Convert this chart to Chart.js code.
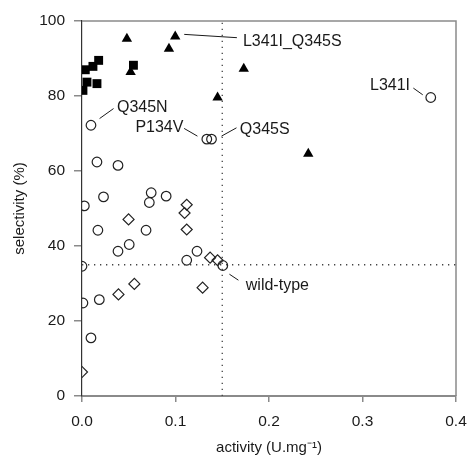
<!DOCTYPE html>
<html>
<head>
<meta charset="utf-8">
<script src="https://cdn.jsdelivr.net/npm/chart.js@4.4.0/dist/chart.umd.min.js"></script>
<style>
  html, body { margin: 0; padding: 0; background: #fff; }
  #wrap { width: 468px; height: 461px; }
</style>
</head>
<body>
<div id="wrap"><canvas id="chart" width="468" height="461"></canvas></div>
<script>
// activity (U.mg-1) / selectivity (%)
var squareX = [0.001, 0.0035, 0.0053, 0.0117, 0.016, 0.0178, 0.055];
var squareY = [81.5, 87.0, 83.7, 87.9, 83.3, 89.5, 88.2];

var triangleX = [0.048, 0.052, 0.093, 0.0997, 0.145, 0.173, 0.242];
var triangleY = [95.3, 86.4, 92.6, 95.9, 79.6, 87.3, 64.6];

var circleX = [0.0096, 0.016, 0.0385, 0.023, 0.074, 0.072, 0.090, 0.0025, 0.017, 0.0685, 0.0505,
               0.0385, 0.0, 0.112, 0.123, 0.1506, 0.001, 0.0185, 0.0096, 0.1335, 0.1385, 0.373];
var circleY = [72.2, 62.4, 61.5, 53.1, 54.2, 51.6, 53.3, 50.7, 44.2, 44.2, 40.4,
               38.6, 34.6, 36.2, 38.6, 34.8, 24.8, 25.7, 15.5, 68.5, 68.5, 79.6];

var diamondX = [0.0498, 0.112, 0.1097, 0.112, 0.137, 0.145, 0.129, 0.056, 0.039, 0.0];
var diamondY = [47.1, 51.0, 48.8, 44.4, 36.9, 36.2, 28.9, 29.9, 27.1, 6.4];

// dotted reference lines (wild-type level)
var refActivity = 0.15;
var refSelectivity = 35;

// labelled variants and the point each refers to
var labelNames = ['Q345N', 'P134V', 'Q345S', 'L341I_Q345S', 'L341I', 'wild-type'];
var labelX = [0.0096, 0.1335, 0.1385, 0.0997, 0.373, 0.1506];
var labelY = [72.2, 68.5, 68.5, 95.9, 79.6, 34.8];

var xTicks = [0, 0.1, 0.2, 0.3, 0.4];
var yTicks = [0, 20, 40, 60, 80, 100];

// pixel placement of the labels: [lineStartDx, lineStartDy, lineEndDx, lineEndDy, textDx, textDy, align]
var labelLayout = [
    [8.6, -6.7, 22.6, -16.7, 26, -17.5, 'left'],
    [-22.7, -10.7, -9.4, -3, -23.4, -11.5, 'right'],
    [10, -3, 25, -11.3, 28.3, -9.5, 'left'],
    [9, -2, 61.7, 1.3, 67.7, 5, 'left'],
    [-17.4, -9.4, -8, -2.7, -20.7, -11.7, 'right'],
    [6.6, 8.7, 15.6, 14.7, 23, 20.5, 'left']
];

function pts(xs, ys) {
    return xs.map(function (x, i) { return { x: x, y: ys[i] }; });
}

var FONT = "'Liberation Sans', Arial, sans-serif";

var framePlugin = {
    id: 'frame',
    beforeDatasetsDraw: function (chart) {
        var a = chart.chartArea, ctx = chart.ctx;
        ctx.save();
        ctx.strokeStyle = '#8a8a8a';
        ctx.lineWidth = 1.5;
        ctx.beginPath();
        ctx.moveTo(a.left, a.top);
        ctx.lineTo(a.right, a.top);
        ctx.lineTo(a.right, a.bottom);
        ctx.stroke();
        ctx.restore();
    }
};

var labelPlugin = {
    id: 'labels',
    afterDatasetsDraw: function (chart) {
        var ctx = chart.ctx, xs = chart.scales.x, ys = chart.scales.y;
        ctx.save();
        ctx.font = '16px ' + FONT;
        ctx.textBaseline = 'middle';
        ctx.fillStyle = '#1a1a1a';
        ctx.strokeStyle = '#1a1a1a';
        ctx.lineWidth = 1;
        labelNames.forEach(function (name, i) {
            var px = xs.getPixelForValue(labelX[i]);
            var py = ys.getPixelForValue(labelY[i]);
            var l = labelLayout[i];
            ctx.beginPath();
            ctx.moveTo(px + l[0], py + l[1]);
            ctx.lineTo(px + l[2], py + l[3]);
            ctx.stroke();
            ctx.textAlign = l[6];
            ctx.fillText(name, px + l[4], py + l[5]);
        });
        ctx.restore();
    }
};

var ctx = document.getElementById('chart').getContext('2d');
var chart = new Chart(ctx, {
    type: 'scatter',
    data: {
        datasets: [
            {
                label: 'squares',
                data: pts(squareX, squareY),
                pointStyle: 'rect',
                pointRadius: 6.3,
                backgroundColor: '#000',
                borderColor: '#000',
                borderWidth: 0
            },
            {
                label: 'triangles',
                data: pts(triangleX, triangleY),
                pointStyle: 'triangle',
                pointRadius: 6,
                backgroundColor: '#000',
                borderColor: '#000',
                borderWidth: 0
            },
            {
                label: 'circles',
                data: pts(circleX, circleY),
                pointStyle: 'circle',
                pointRadius: 4.8,
                backgroundColor: 'rgba(0,0,0,0)',
                borderColor: '#222',
                borderWidth: 1.2
            },
            {
                label: 'diamonds',
                data: pts(diamondX, diamondY),
                pointStyle: 'rectRot',
                pointRadius: 5.5,
                backgroundColor: 'rgba(0,0,0,0)',
                borderColor: '#222',
                borderWidth: 1.2
            },
            {
                label: 'ref x',
                data: [{ x: refActivity, y: yTicks[0] }, { x: refActivity, y: yTicks[yTicks.length - 1] }],
                showLine: true,
                pointRadius: 0,
                borderColor: '#444',
                borderWidth: 1.3,
                borderDash: [1.3, 4.7]
            },
            {
                label: 'ref y',
                data: [{ x: xTicks[0], y: refSelectivity }, { x: xTicks[xTicks.length - 1], y: refSelectivity }],
                showLine: true,
                pointRadius: 0,
                borderColor: '#444',
                borderWidth: 1.3,
                borderDash: [1.3, 4.7]
            }
        ]
    },
    options: {
        responsive: false,
        animation: false,
        events: [],
        layout: { padding: { left: 0, right: 12, top: 21, bottom: 0 } },
        plugins: {
            legend: { display: false },
            tooltip: { enabled: false }
        },
        scales: {
            x: {
                type: 'linear',
                min: xTicks[0],
                max: xTicks[xTicks.length - 1],
                afterFit: function (scale) {
                    scale.height = 65;
                    scale.paddingLeft = 0;
                    scale.paddingRight = 0;
                },
                afterBuildTicks: function (scale) {
                    scale.ticks = xTicks.map(function (v) { return { value: v }; });
                },
                ticks: {
                    color: '#1a1a1a',
                    padding: 10,
                    font: { family: FONT, size: 15.5 },
                    callback: function (v) { return Number(v).toFixed(1); }
                },
                grid: {
                    drawOnChartArea: false,
                    drawTicks: true,
                    tickLength: 6,
                    color: '#8a8a8a',
                    lineWidth: 1.5
                },
                border: { display: true, color: '#8a8a8a', width: 2 },
                title: {
                    display: true,
                    text: 'activity (U.mg\u207B\u00B9)',
                    color: '#1a1a1a',
                    font: { family: FONT, size: 15 },
                    padding: { top: 0, bottom: 4 }
                }
            },
            y: {
                type: 'linear',
                min: yTicks[0],
                max: yTicks[yTicks.length - 1],
                afterFit: function (scale) {
                    scale.width = 82;
                    scale.paddingTop = 0;
                    scale.paddingBottom = 0;
                },
                afterBuildTicks: function (scale) {
                    scale.ticks = yTicks.map(function (v) { return { value: v }; });
                },
                ticks: {
                    color: '#1a1a1a',
                    padding: 9,
                    font: { family: FONT, size: 15.5 }
                },
                grid: {
                    drawOnChartArea: false,
                    drawTicks: true,
                    tickLength: 8,
                    color: '#8a8a8a',
                    lineWidth: 1.5
                },
                border: { display: true, color: '#333', width: 1.2 },
                title: {
                    display: true,
                    text: 'selectivity (%)',
                    color: '#1a1a1a',
                    font: { family: FONT, size: 15 },
                    padding: { top: 11, bottom: 0 }
                }
            }
        }
    },
    plugins: [framePlugin, labelPlugin]
});
</script>
</body>
</html>
